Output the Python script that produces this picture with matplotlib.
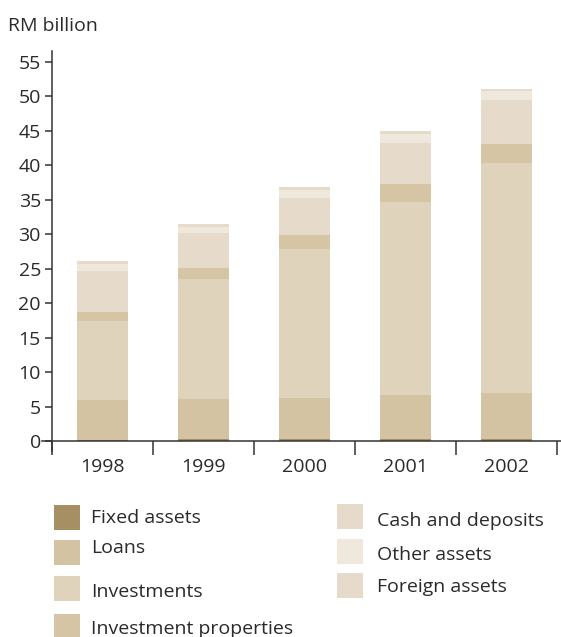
import matplotlib
matplotlib.use("Agg")
import matplotlib.pyplot as plt
from matplotlib.patches import Rectangle
import numpy as np

plt.rcParams['font.family'] = ['Open Sans', 'DejaVu Sans']

years = ["1998", "1999", "2000", "2001", "2002"]
categories = ["Fixed assets", "Loans", "Investments", "Investment properties",
              "Cash and deposits", "Other assets", "Foreign assets"]
fixed_assets = [0.2, 0.3, 0.3, 0.3, 0.3]
loans = [5.75, 5.8, 5.9, 6.33, 6.67]
investments = [11.5, 17.46, 21.7, 28.07, 33.43]
investment_properties = [1.3, 1.6, 2.0, 2.55, 2.75]
cash_deposits = [5.95, 5.05, 5.4, 6.0, 6.4]
other_assets = [1.0, 0.86, 1.1, 1.35, 1.2]
foreign_assets = [0.4, 0.44, 0.47, 0.4, 0.4]
series = [fixed_assets, loans, investments, investment_properties,
          cash_deposits, other_assets, foreign_assets]
colors = ["#a68f62", "#d3c3a3", "#dfd3bc", "#d5c5a5", "#e6dbca", "#efe8dd", "#e6dbca"]
yticks = [0, 5, 10, 15, 20, 25, 30, 35, 40, 45, 50, 55]

W, H = 561, 637
fig = plt.figure(figsize=(W / 100, H / 100), dpi=100)
ax = fig.add_axes([42 / W, 1 - 451 / H, (561 - 42) / W, 400 / H])

x = np.arange(len(years))
bottom = np.zeros(len(years))
for vals, c in zip(series, colors):
    ax.bar(x, vals, width=0.505, bottom=bottom, color=c, linewidth=0)
    bottom += np.array(vals)

ax.set_xlim(-0.5 - 10 * 5 / 505, 4.5 + 4 * 5 / 505)
ax.set_ylim(-1.45, 56.6)
for s in ["top", "right"]:
    ax.spines[s].set_visible(False)
axcol = "#333333"
txtcol = "#2a2a2a"
ax.spines["left"].set_position(("data", -0.5))
ax.spines["left"].set_bounds(-1.45, 56.6)
ax.spines["bottom"].set_position(("data", 0))
for s in ["left", "bottom"]:
    ax.spines[s].set_color(axcol)
    ax.spines[s].set_linewidth(1.1)

ax.set_yticks(yticks)
ax.set_yticklabels([str(v) for v in yticks])
ax.tick_params(axis="y", direction="out", length=5, width=1.1, color=axcol,
               labelsize=14, labelcolor=txtcol, pad=3)

ax.set_xticks(np.arange(-0.5, 5.0, 1.0))
ax.set_xticklabels([])
ax.tick_params(axis="x", which="major", direction="out", length=10, width=1.1, color=axcol)
ax.set_xticks(x, minor=True)
ax.set_xticklabels(years, minor=True)
ax.tick_params(axis="x", which="minor", length=0, labelsize=14, labelcolor=txtcol, pad=12)

fig.text(8 / W, 1 - 26 / H, "RM billion", fontsize=14, color=txtcol, va="center", ha="left")

# legend
legend_pos = [
    (54, 505, 91, 518),
    (54, 540, 91, 548),
    (54, 576, 91, 592),
    (54, 614, 91, 629),
    (337, 504, 377, 521),
    (337, 539, 377, 555),
    (337, 573, 377, 587),
]
for (sx, sy, tx, ty), lab, c in zip(legend_pos, categories, colors):
    fig.patches.append(Rectangle((sx / W, 1 - (sy + 25) / H), 26 / W, 25 / H,
                                 transform=fig.transFigure, color=c, linewidth=0))
    fig.text(tx / W, 1 - ty / H, lab, fontsize=14, color=txtcol, va="center", ha="left")

fig.savefig("out.png", dpi=100)
